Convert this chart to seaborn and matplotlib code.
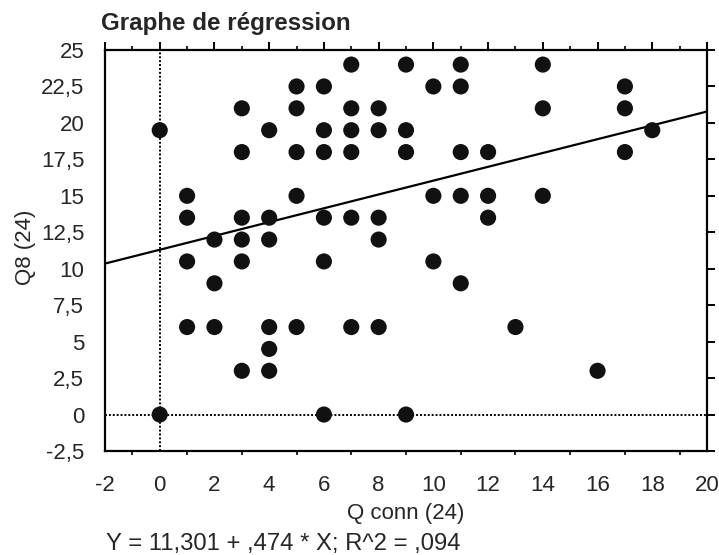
import matplotlib
matplotlib.use("Agg")
import matplotlib.pyplot as plt
import seaborn as sns
import numpy as np
import pandas as pd
from matplotlib.ticker import FuncFormatter, MultipleLocator

# Data
q_conn = [0, 0,
          1, 1, 1, 1,
          2, 2, 2,
          3, 3, 3, 3, 3, 3,
          4, 4, 4, 4, 4, 4,
          5, 5, 5, 5, 5,
          6, 6, 6, 6, 6, 6,
          7, 7, 7, 7, 7, 7,
          8, 8, 8, 8, 8,
          9, 9, 9, 9,
          10, 10, 10,
          11, 11, 11, 11, 11,
          12, 12, 12,
          13,
          14, 14, 14,
          16,
          17, 17, 17,
          18]
q8 = [19.5, 0,
      15, 13.5, 10.5, 6,
      12, 9, 6,
      21, 18, 13.5, 12, 10.5, 3,
      19.5, 13.5, 12, 6, 4.5, 3,
      22.5, 21, 18, 15, 6,
      22.5, 19.5, 18, 13.5, 10.5, 0,
      24, 21, 19.5, 18, 13.5, 6,
      21, 19.5, 13.5, 12, 6,
      24, 19.5, 18, 0,
      22.5, 15, 10.5,
      24, 22.5, 18, 15, 9,
      18, 15, 13.5,
      6,
      24, 21, 15,
      3,
      22.5, 21, 18,
      19.5]
intercept = 11.301
slope = 0.474
r2 = 0.094
line_x = [-2, 20]
x_ticks = list(range(-2, 21, 2))
y_ticks = [-2.5, 0, 2.5, 5, 7.5, 10, 12.5, 15, 17.5, 20, 22.5, 25]

sns.set_style("white")
plt.rcParams['font.family'] = ['Liberation Sans', 'DejaVu Sans']

W, H = 719, 555
fig = plt.figure(figsize=(W / 100, H / 100), dpi=100)
ax = fig.add_axes([105/W, 1 - 451/H, (707-105)/W, (451-50)/H])

df = pd.DataFrame({"x": q_conn, "y": q8})
ax.axhline(0, color="black", ls=(0, (1, 1)), lw=1.4, zorder=1)
ax.axvline(0, color="black", ls=(0, (1, 1)), lw=1.4, zorder=1)

line_df = pd.DataFrame({"x": line_x, "y": [intercept + slope * v for v in line_x]})
sns.lineplot(data=line_df, x="x", y="y", ax=ax, color="black", lw=1.6, zorder=2)
sns.scatterplot(data=df, x="x", y="y", ax=ax, color="#111111", s=135,
                edgecolor="none", linewidth=0, zorder=3)

ax.set_xlim(-2, 20)
ax.set_ylim(-2.5, 25)
ax.set_xticks(x_ticks)
ax.set_yticks(y_ticks)
ax.xaxis.set_minor_locator(MultipleLocator(1))

def fmt(v, pos):
    return ("%g" % v).replace(".", ",")
ax.xaxis.set_major_formatter(FuncFormatter(fmt))
ax.yaxis.set_major_formatter(FuncFormatter(fmt))

for sp in ax.spines.values():
    sp.set_visible(True)
    sp.set_color("black")
    sp.set_linewidth(1.6)

ax.tick_params(axis="both", which="major", direction="out", length=6, width=1.4,
               top=True, right=True, labelsize=16, color="black")
ax.tick_params(axis="x", which="major", pad=11)
ax.tick_params(axis="y", which="major", pad=9)
ax.tick_params(axis="x", which="minor", direction="out", length=3, width=1.2,
               top=True, bottom=True, color="black")

ax.set_xlabel("")
ax.set_ylabel("")

fig.text(406/W, 1 - 519/H, "Q conn (24)", fontsize=16, ha="center", va="baseline")
fig.text(25/W, 1 - 247/H, "Q8 (24)", fontsize=16, ha="center", va="center", rotation=90)

fig.text(101/W, 1 - 30/H, "Graphe de régression", fontsize=17.4, fontweight="bold",
         ha="left", va="baseline")
fig.text(106/W, 1 - 550/H,
         "Y = 11,301 + ,474 * X; R^2 = ,094", fontsize=17.2, ha="left", va="baseline")

fig.savefig("out.png", dpi=100)
